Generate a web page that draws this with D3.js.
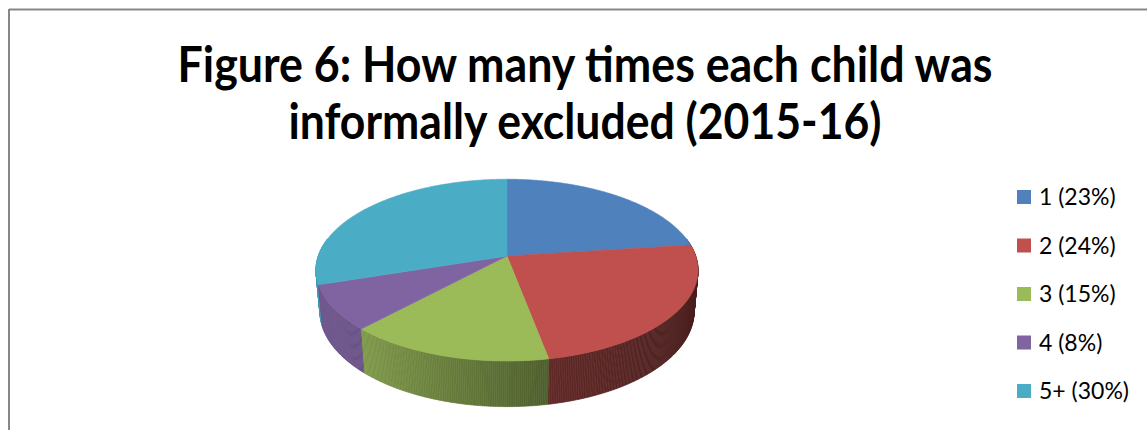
<!DOCTYPE html>
<html>
<head>
<meta charset="utf-8">
<script src="https://cdn.jsdelivr.net/npm/d3@7"></script>
<style>
  html, body { margin: 0; padding: 0; background: #ffffff; }
  svg { display: block; }
</style>
</head>
<body>
<svg id="chart" width="1147" height="430"></svg>
<script>
// Number of informal exclusions per child, 2015-16
const categories = ["1", "2", "3", "4", "5+"];
const shares = [23, 24, 15, 8, 30];
const legendLabels = ["1 (23%)", "2 (24%)", "3 (15%)", "4 (8%)", "5+ (30%)"];
const sliceColors = ["#4f81bd", "#c0504d", "#9bbb59", "#8064a2", "#4bacc6"];
const titleLines = ["Figure 6: How many times each child was", "informally excluded (2015-16)"];

const svg = d3.select("#chart");
const W = 1147, H = 430;

// Frame (top and left edges of the chart area)
svg.append("line").attr("x1", 9).attr("y1", 9.5).attr("x2", W).attr("y2", 9.5)
  .attr("stroke", "#878787").attr("stroke-width", 2);
svg.append("line").attr("x1", 9).attr("y1", 9).attr("x2", 9).attr("y2", H)
  .attr("stroke", "#878787").attr("stroke-width", 2);

// Title
const titleFont = "Lato, 'Open Sans', sans-serif";
const titleWidths = [815, 593];
const titleBaselines = [82, 139];
titleLines.forEach((t, i) => {
  svg.append("text")
    .attr("x", 585).attr("y", titleBaselines[i])
    .attr("text-anchor", "middle")
    .attr("font-family", titleFont)
    .attr("font-weight", 700)
    .attr("font-size", 49)
    .attr("fill", "#000")
    .attr("textLength", titleWidths[i])
    .attr("lengthAdjust", "spacingAndGlyphs")
    .text(t);
});

// ---- 3D pie: a tilted disc seen in perspective ----
const cx = 507, cy = 256;         // projected centre of the top face
const focal = 1072, dist = 5.68;  // camera focal length and distance (disc radius = 1)
const sinT = 0.47, cosT = Math.sqrt(1 - sinT * sinT);
const thickness = 0.25;           // disc thickness relative to radius

// angle a: 0 at the far side (12 o'clock), increasing clockwise seen from above
function project(a, r, drop) {
  const x = r * Math.sin(a);
  const z = -r * Math.cos(a);     // positive z points toward the viewer
  const Y = z * sinT + drop * cosT;
  const D = dist - z * cosT + drop * sinT;
  return [cx + focal * x / D, cy + focal * Y / D];
}

const pie = d3.pie().sort(null).value(d => d.value).startAngle(0).endAngle(2 * Math.PI);
const arcs = pie(categories.map((c, i) => ({ cat: c, value: shares[i], color: sliceColors[i] })));

// side shading: light falls from the left, the right side of the rim is darkest
const shade = d3.scaleLinear().domain([-1, -0.7, 0.2, 1]).range([0.9, 0.82, 0.5, 0.38]).clamp(true);
function sideColor(base, a) {
  const c = d3.rgb(base);
  const k = shade(Math.sin(a));
  return d3.rgb(c.r * k, c.g * k, c.b * k).formatHex();
}

// rim strips, only the half facing the viewer, drawn back to front
const step = Math.PI / 360;
const strips = [];
arcs.forEach(d => {
  for (let a = d.startAngle; a < d.endAngle - 1e-9; a += step) {
    const b = Math.min(a + step, d.endAngle);
    const mid = (a + b) / 2;
    if (-Math.cos(mid) > -0.2) strips.push({ a0: a, a1: b, color: d.data.color });
  }
});
strips.sort((p, q) => (-Math.cos((p.a0 + p.a1) / 2)) - (-Math.cos((q.a0 + q.a1) / 2)));

const rimLayer = svg.append("g");
rimLayer.selectAll("path").data(strips).join("path")
  .attr("d", s => {
    const p = [project(s.a0, 1, 0), project(s.a1, 1, 0), project(s.a1, 1, thickness), project(s.a0, 1, thickness)];
    return "M" + p.map(q => q.join(",")).join("L") + "Z";
  })
  .attr("fill", s => sideColor(s.color, (s.a0 + s.a1) / 2))
  .attr("stroke", s => sideColor(s.color, (s.a0 + s.a1) / 2))
  .attr("stroke-width", 0.6);

// top faces
const pathLine = d3.line();
const faceLayer = svg.append("g");
faceLayer.selectAll("path").data(arcs).join("path")
  .attr("d", d => {
    const pts = [project(0, 0, 0)];
    const n = Math.max(2, Math.ceil((d.endAngle - d.startAngle) / step));
    for (let i = 0; i <= n; i++) {
      const a = d.startAngle + (d.endAngle - d.startAngle) * i / n;
      pts.push(project(a, 1, 0));
    }
    return pathLine(pts) + "Z";
  })
  .attr("fill", d => d.data.color)
  .attr("stroke", d => d.data.color)
  .attr("stroke-width", 0.6);

// Legend
const legendFont = "Lato, 'Open Sans', sans-serif";
const legend = svg.append("g").attr("transform", "translate(1017,197)");
const rowGap = 48.5;
const item = legend.selectAll("g").data(legendLabels).join("g")
  .attr("transform", (d, i) => `translate(0,${i * rowGap})`);
item.append("rect")
  .attr("x", 0).attr("y", -7).attr("width", 14).attr("height", 14)
  .attr("fill", (d, i) => sliceColors[i]);
item.append("text")
  .attr("x", 22).attr("y", 0).attr("dy", "0.36em")
  .attr("font-family", legendFont).attr("font-size", 23)
  .attr("fill", "#000")
  .text(d => d);
</script>
</body>
</html>
